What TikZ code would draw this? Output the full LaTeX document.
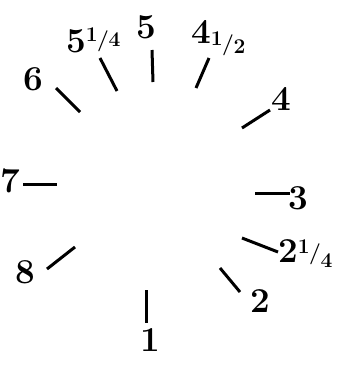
\documentclass[tikz,border=0pt]{standalone}
\newcommand\myfr[5]{{\fontsize{21}{21}\selectfont\raisebox{#2}{#1}\kern-0.5pt\raisebox{#3}{/}\kern-0.5pt\raisebox{#5}{#4}}}
\begin{document}
\begin{tikzpicture}[x=1pt,y=-1pt,
  tk/.style={line width=3pt},
  lab/.style={inner sep=0pt,anchor=base west,font=\fontsize{35}{35}\bfseries\selectfont}]
\useasboundingbox (0,0) rectangle (342,373);
% ticks
\coordinate (t6a) at (56,88);   \coordinate (t6b) at (80,112);
\coordinate (t54a) at (100,58); \coordinate (t54b) at (117,91);
\coordinate (t5a) at (152,50);  \coordinate (t5b) at (153,82);
\coordinate (t45a) at (209,58); \coordinate (t45b) at (196,88);
\coordinate (t4a) at (270,110); \coordinate (t4b) at (242,128);
\coordinate (t7a) at (23,184);  \coordinate (t7b) at (57,184);
\coordinate (t3a) at (255,193); \coordinate (t3b) at (290,193);
\coordinate (t24a) at (242,238);\coordinate (t24b) at (278,252);
\coordinate (t8a) at (47,269);  \coordinate (t8b) at (75,247);
\coordinate (t2a) at (220,268); \coordinate (t2b) at (240,292);
\coordinate (t1a) at (146,290); \coordinate (t1b) at (146,323);
\foreach \n in {6,54,5,45,4,7,3,24,8,2,1}{\draw[tk] (t\n a) -- (t\n b);}
% labels
\node[lab] (l6) at (23,90) {6};
\node[lab] (l54) at (66,52) {5\myfr{1}{11pt}{6pt}{4}{6pt}};
\node[lab] (l5) at (136,38) {5};
\node[lab] (l45) at (191,43) {4\myfr{1}{-2pt}{-7pt}{2}{-10pt}};
\node[lab] (l4) at (271,110) {4};
\node[lab] (l7) at (0,192) {7};
\node[lab] (l3) at (288,209) {3};
\node[lab] (l24) at (278,262) {2\myfr{1}{9pt}{3pt}{4}{-5pt}};
\node[lab] (l8) at (15,283) {8};
\node[lab] (l2) at (250,312) {2};
\node[lab] (l1) at (140,351) {1};
\end{tikzpicture}
\end{document}
